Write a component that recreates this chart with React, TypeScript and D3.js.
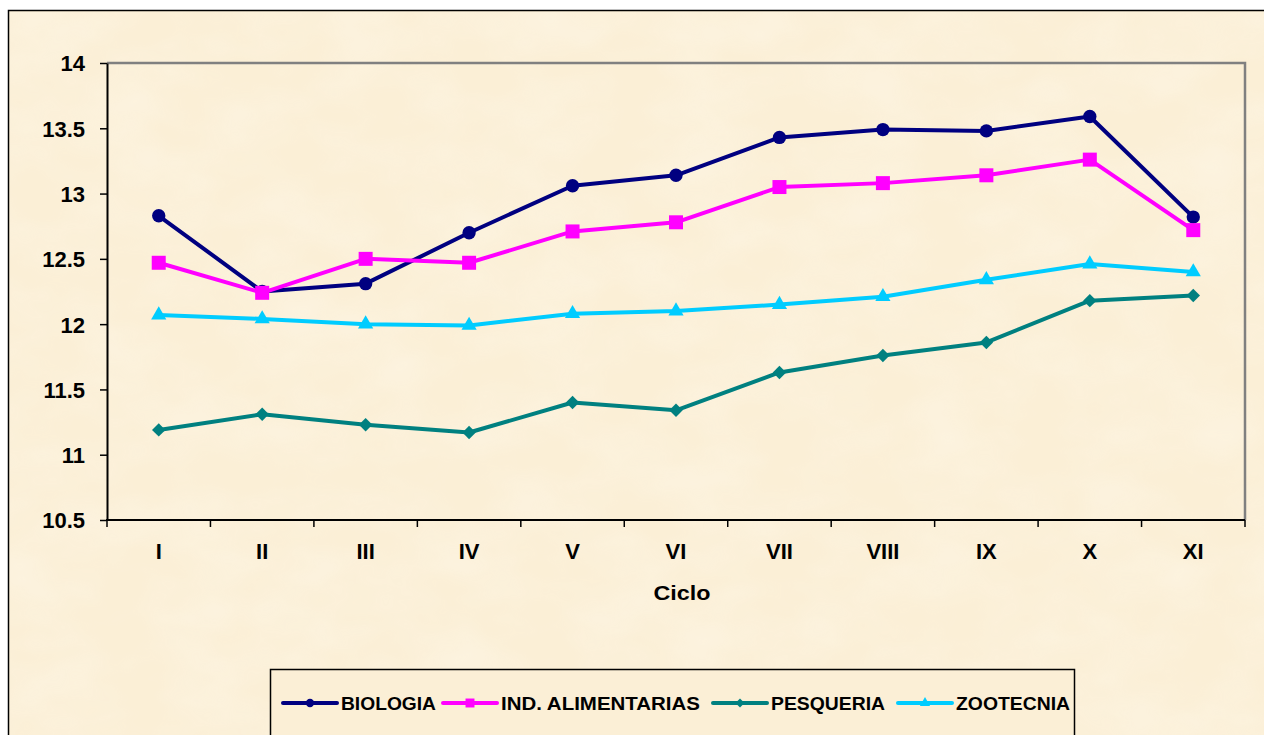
import React, { useEffect, useRef } from "react";
import * as d3 from "d3";

// categories and values
const ciclos = ["I", "II", "III", "IV", "V", "VI", "VII", "VIII", "IX", "X", "XI"];
const biologia = [12.83, 12.25, 12.31, 12.70, 13.06, 13.14, 13.43, 13.49, 13.48, 13.59, 12.82];
const alimentarias = [12.47, 12.24, 12.50, 12.47, 12.71, 12.78, 13.05, 13.08, 13.14, 13.26, 12.72];
const pesqueria = [11.19, 11.31, 11.23, 11.17, 11.40, 11.34, 11.63, 11.76, 11.86, 12.18, 12.22];
const zootecnia = [12.07, 12.04, 12.00, 11.99, 12.08, 12.10, 12.15, 12.21, 12.34, 12.46, 12.40];
const yTicks = [10.5, 11, 11.5, 12, 12.5, 13, 13.5, 14];
const seriesNames = ["BIOLOGIA", "IND. ALIMENTARIAS", "PESQUERIA", "ZOOTECNIA"];

const App = () => {
  const ref = useRef<SVGSVGElement>(null);

  useEffect(() => {
    const svg = d3.select(ref.current);
    svg.selectAll("*").remove();

    const width = 1264;
    const height = 735;
    const bg = "#fbefd6";
    const font = "Arial, 'Liberation Sans', sans-serif";
    const plot = { left: 107, top: 63, right: 1245, bottom: 520 };

    const series = [
      { name: seriesNames[0], values: biologia, color: "#000080", symbol: d3.symbolCircle, size: 140, rot: 0, lsize: 55 },
      { name: seriesNames[1], values: alimentarias, color: "#ff00ff", symbol: d3.symbolSquare, size: 196, rot: 0, lsize: 80 },
      { name: seriesNames[2], values: pesqueria, color: "#008080", symbol: d3.symbolSquare, size: 90, rot: 45, lsize: 40 },
      { name: seriesNames[3], values: zootecnia, color: "#00ccff", symbol: d3.symbolTriangle, size: 100, rot: 0, lsize: 45 },
    ];

    svg.attr("width", width).attr("height", height);

    // faint parchment texture
    const defs = svg.append("defs");
    const filter = defs.append("filter").attr("id", "paper").attr("x", 0).attr("y", 0).attr("width", "100%").attr("height", "100%");
    filter.append("feTurbulence")
      .attr("type", "fractalNoise")
      .attr("baseFrequency", "0.012 0.02")
      .attr("numOctaves", 3)
      .attr("seed", 4);
    filter.append("feColorMatrix")
      .attr("type", "matrix")
      .attr("values", "0 0 0 0 1  0 0 0 0 0.96  0 0 0 0 0.88  0 0 0 -1.6 1.1");

    // outer chart frame (runs off the page on right and bottom)
    svg.append("rect")
      .attr("x", 8.5).attr("y", 10.5)
      .attr("width", width).attr("height", height)
      .attr("fill", bg)
      .attr("stroke", "#000").attr("stroke-width", 1.5);
    svg.append("rect")
      .attr("x", 10).attr("y", 12)
      .attr("width", width).attr("height", height)
      .attr("filter", "url(#paper)")
      .attr("opacity", 0.35);

    const xScale = d3.scaleBand<string>()
      .domain(ciclos)
      .range([plot.left, plot.right])
      .padding(0);
    const yScale = d3.scaleLinear()
      .domain([10.5, 14])
      .range([plot.bottom, plot.top]);
    const cx = (c: string) => (xScale(c) as number) + xScale.bandwidth() / 2;

    // plot area border (gray top/right)
    svg.append("path")
      .attr("d", `M${plot.left},${plot.top}H${plot.right}V${plot.bottom}`)
      .attr("fill", "none")
      .attr("stroke", "#808080")
      .attr("stroke-width", 2.5);

    // y axis
    const yAxis = d3.axisLeft(yScale)
      .tickValues(yTicks)
      .tickSize(7)
      .tickSizeOuter(0)
      .tickPadding(15)
      .tickFormat((d) => String(d));
    const gy = svg.append("g")
      .attr("transform", `translate(${plot.left},0)`)
      .call(yAxis);
    gy.select(".domain").attr("stroke", "#000").attr("stroke-width", 2);
    gy.selectAll(".tick line").attr("stroke", "#000").attr("stroke-width", 1.5);
    gy.selectAll(".tick text")
      .attr("fill", "#000")
      .attr("dy", "0.36em")
      .style("font-family", font)
      .style("font-weight", "bold")
      .style("font-size", "22px");

    // x axis: ticks at category boundaries
    const gx = svg.append("g");
    gx.append("line")
      .attr("x1", plot.left - 1).attr("x2", plot.right)
      .attr("y1", plot.bottom).attr("y2", plot.bottom)
      .attr("stroke", "#000").attr("stroke-width", 2);
    const bounds = ciclos.map((c) => xScale(c) as number).concat([plot.right]);
    gx.selectAll("line.tick")
      .data(bounds)
      .enter()
      .append("line")
      .attr("class", "tick")
      .attr("x1", (d) => d).attr("x2", (d) => d)
      .attr("y1", plot.bottom).attr("y2", plot.bottom + 7)
      .attr("stroke", "#000").attr("stroke-width", 1.5);
    gx.selectAll("text")
      .data(ciclos)
      .enter()
      .append("text")
      .attr("x", (d) => cx(d))
      .attr("y", 559)
      .attr("text-anchor", "middle")
      .style("font-family", font)
      .style("font-weight", "bold")
      .style("font-size", "22px")
      .text((d) => d);

    svg.append("text")
      .attr("x", 682)
      .attr("y", 600)
      .attr("text-anchor", "middle")
      .attr("textLength", 57)
      .attr("lengthAdjust", "spacingAndGlyphs")
      .style("font-family", font)
      .style("font-weight", "bold")
      .style("font-size", "20px")
      .text("Ciclo");

    const line = d3.line<number>()
      .x((_, i) => cx(ciclos[i]))
      .y((d) => yScale(d));

    series.forEach((s) => {
      const g = svg.append("g");
      g.append("path")
        .datum(s.values)
        .attr("d", line)
        .attr("fill", "none")
        .attr("stroke", s.color)
        .attr("stroke-width", 4)
        .attr("stroke-linejoin", "round");
      g.selectAll("path.marker")
        .data(s.values)
        .enter()
        .append("path")
        .attr("class", "marker")
        .attr("d", d3.symbol().type(s.symbol).size(s.size)() as string)
        .attr("transform", (d, i) => `translate(${cx(ciclos[i])},${yScale(d)}) rotate(${s.rot})`)
        .attr("fill", s.color);
    });

    // legend
    const legend = svg.append("g");
    legend.append("rect")
      .attr("x", 270.5).attr("y", 669.5)
      .attr("width", 804).attr("height", 120)
      .attr("fill", bg)
      .attr("stroke", "#000").attr("stroke-width", 1.5);

    const legendX = [283, 443, 713, 898];
    const legendW = [95, 199, 114, 114];
    series.forEach((s, i) => {
      const lg = legend.append("g").attr("transform", `translate(${legendX[i]},703)`);
      lg.append("line")
        .attr("x1", 0).attr("x2", 54)
        .attr("stroke", s.color)
        .attr("stroke-width", 4)
        .attr("stroke-linecap", "round");
      lg.append("path")
        .attr("d", d3.symbol().type(s.symbol).size(s.lsize)() as string)
        .attr("transform", `translate(27,0) rotate(${s.rot})`)
        .attr("fill", s.color);
      lg.append("text")
        .attr("x", 58)
        .attr("y", 7)
        .attr("textLength", legendW[i])
        .attr("lengthAdjust", "spacingAndGlyphs")
        .style("font-family", font)
        .style("font-weight", "bold")
        .style("font-size", "19px")
        .text(s.name);
    });
  }, []);

  return (
    <div style={{ position: "absolute", left: 0, top: 0, width: 1264, height: 735, overflow: "hidden", background: "#fff" }}>
      <svg ref={ref} style={{ display: "block" }}></svg>
    </div>
  );
};

export default App;
